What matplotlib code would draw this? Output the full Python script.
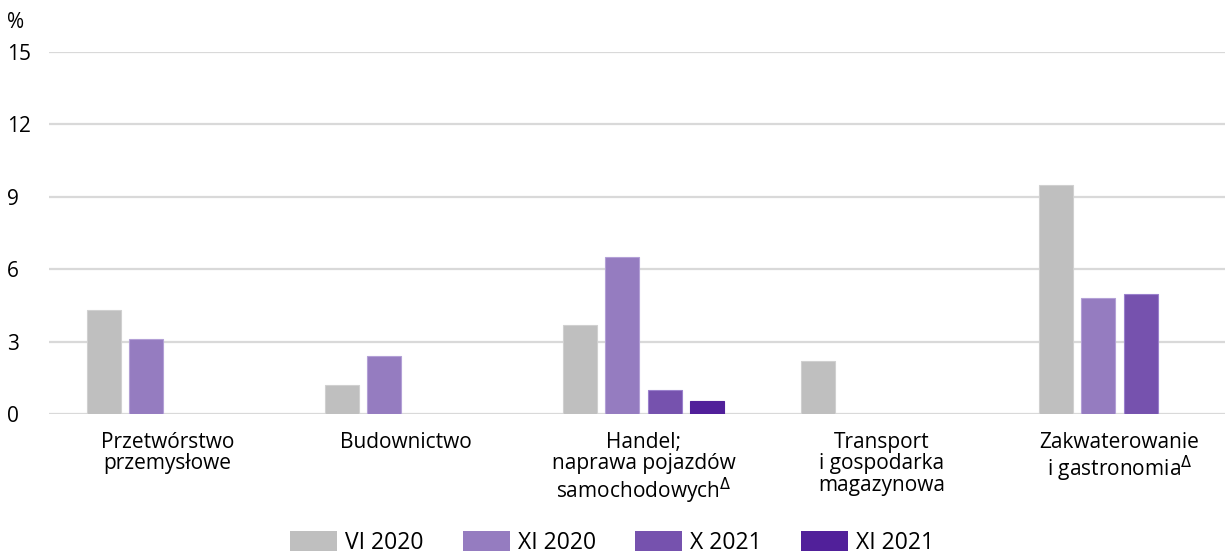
import numpy as np
import matplotlib
matplotlib.use('Agg')
import matplotlib.pyplot as plt

plt.rcParams['font.family'] = ['Open Sans', 'DejaVu Sans']
plt.rcParams['mathtext.fontset'] = 'dejavusans'

# Data (%)
categories = ['Przetwórstwo\nprzemysłowe',
              'Budownictwo',
              'Handel;\nnaprawa pojazdów\nsamochodowych$^{\\Delta}$',
              'Transport\ni gospodarka\nmagazynowa',
              'Zakwaterowanie\ni gastronomia$^{\\Delta}$']
series_names = ['VI 2020', 'XI 2020', 'X 2021', 'XI 2021']
vi_2020 = [4.3, 1.2, 3.7, 2.2, 9.5]
xi_2020 = [3.1, 2.4, 6.5, np.nan, 4.8]
x_2021 = [np.nan, np.nan, 1.0, np.nan, 5.0]
xi_2021 = [np.nan, np.nan, 0.55, np.nan, np.nan]
colors = ['#BFBFBF', '#957CC0', '#7652AE', '#51209A']
edges = ['#D0D0D0', '#B3A0D6', '#9A80CC', '#51209A']

y_ticks = [0, 3, 6, 9, 12, 15]

fig = plt.figure(figsize=(12.25, 5.55), dpi=100)
ax = fig.add_axes([48.5 / 1225, 140.7 / 555, 1190 / 1225, 362.3 / 555])

x = np.arange(len(categories))
step = 0.179
width = 0.143
all_series = [vi_2020, xi_2020, x_2021, xi_2021]
for k, (vals, name) in enumerate(zip(all_series, series_names)):
    vals = np.array(vals, dtype=float)
    mask = ~np.isnan(vals)
    ax.bar(x[mask] + (k - 1.5) * step, vals[mask], width=width,
           color=colors[k], edgecolor=edges[k], linewidth=0.8, zorder=3)
    # proxy for legend
    ax.bar([0], [0], width=0, color=colors[k], label=name)

ax.set_xlim(-0.5, 4.5)
ax.set_ylim(0, 15)
ax.set_yticks(y_ticks)
ax.set_yticklabels([str(t) for t in y_ticks], fontsize=15)
for lab in ax.get_yticklabels():
    lab.set_horizontalalignment('left')
ax.tick_params(axis='y', length=0, pad=29.9, colors='#000000')
ax.grid(axis='y', color='#D9D9D9', linewidth=1.6, zorder=0)
ax.set_axisbelow(True)
for s in ax.spines.values():
    s.set_visible(False)

ax.set_xticks(x)
ax.set_xticklabels(categories, fontsize=15, linespacing=1.05, va='top')
ax.tick_params(axis='x', length=0, pad=12.5)

fig.text(7 / 1225, 1 - 23 / 555, '%', fontsize=15, va='center', ha='left')

handles, labels = ax.get_legend_handles_labels()
fig.legend(handles, labels, loc='center', bbox_to_anchor=(612 / 1225, 1 - 543 / 555),
           ncol=4, frameon=False, fontsize=16.5, handlelength=2.05, handleheight=0.96,
           handletextpad=0.35, columnspacing=1.7, borderaxespad=0, borderpad=0)

fig.savefig('out.png', dpi=100)
